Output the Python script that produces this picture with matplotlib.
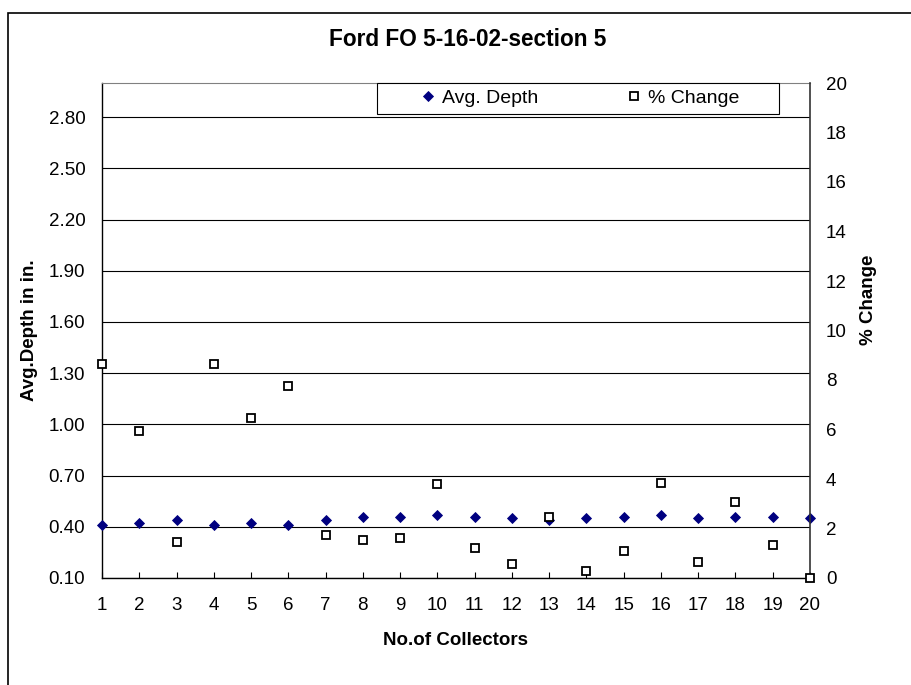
import matplotlib
matplotlib.use("Agg")
import matplotlib.pyplot as plt
from matplotlib.patches import Rectangle

plt.rcParams['font.family'] = ['Liberation Sans', 'DejaVu Sans']

# data
collectors = list(range(1, 21))
avg_depth = [0.41, 0.42, 0.44, 0.41, 0.42, 0.41, 0.44, 0.46, 0.46, 0.47,
             0.46, 0.45, 0.44, 0.45, 0.46, 0.47, 0.45, 0.46, 0.46, 0.45]
pct_change = [8.63, 5.93, 1.47, 8.63, 6.45, 7.77, 1.72, 1.54, 1.60, 3.78,
              1.23, 0.55, 2.46, 0.30, 1.09, 3.84, 0.63, 3.06, 1.35, 0.0]
left_ticks = [0.10, 0.40, 0.70, 1.00, 1.30, 1.60, 1.90, 2.20, 2.50, 2.80]
right_ticks = [0, 2, 4, 6, 8, 10, 12, 14, 16, 18, 20]

W, H = 912, 685
fig = plt.figure(figsize=(W / 100, H / 100), dpi=100)

# plot area in pixels: left 102, right 810, top 83, bottom 578
ax = fig.add_axes([102 / W, (H - 578) / H, 708 / W, 495 / H])
ax.set_xlim(1, 20)
ax.set_ylim(0.1, 3.0)
ax.set_yticks(left_ticks)
ax.set_yticklabels([f"{v:.2f}" for v in left_ticks])
ax.set_xticks(collectors)
ax.yaxis.grid(True, color='black', linewidth=0.8)
ax.set_axisbelow(True)
ax.tick_params(axis='x', direction='in', length=4.5, width=0.8,
               pad=14, labelsize=13.5)
ax.tick_params(axis='y', length=0, pad=12, labelsize=13.5)
ax.spines['top'].set_color('#808080')
ax.spines['right'].set_visible(False)
for s in ['left', 'bottom']:
    ax.spines[s].set_linewidth(1.0)

h1, = ax.plot(collectors, avg_depth, linestyle='none', marker='D',
              markersize=5.5, color='#000080', markeredgewidth=0.6,
              clip_on=False, zorder=3, label='Avg. Depth')

ax2 = ax.twinx()
ax2.set_ylim(0, 20)
ax2.set_yticks(right_ticks)
ax2.tick_params(axis='y', length=0, pad=11.5, labelsize=13.5)
for s in ['left', 'bottom', 'top']:
    ax2.spines[s].set_visible(False)
ax2.spines['right'].set_color('#333333')
ax2.spines['right'].set_linewidth(1.2)

h2, = ax2.plot(collectors, pct_change, linestyle='none', marker='s',
               markersize=5.3, markerfacecolor='white',
               markeredgecolor='black', markeredgewidth=1.3,
               clip_on=False, zorder=3, label='% Change')

ax.set_xlabel('No.of Collectors', fontsize=13.5, fontweight='bold')
ax.xaxis.set_label_coords(0.5, -0.109)
ax.xaxis.label.set_va('top')

fig.text(30 / W, 1 - 330 / H, 'Avg.Depth in in.', rotation=90,
         ha='center', va='center', fontsize=13.5, fontweight='bold')
fig.text(869 / W, 1 - 300 / H, '% Change', rotation=90,
         ha='center', va='center', fontsize=13.5, fontweight='bold')
fig.text(468 / W, 1 - 40 / H, 'Ford FO 5-16-02-section 5',
         ha='center', va='center', fontsize=16.3, fontweight='bold')

# legend box
fig.add_artist(Rectangle((377 / W, 1 - 114 / H), 402 / W, 31 / H,
                         transform=fig.transFigure, facecolor='white',
                         edgecolor='black', linewidth=0.8, zorder=4))
fig.legend(handles=[h1, h2], loc='center left',
           bbox_to_anchor=(418 / W, 1 - 98.5 / H), bbox_transform=fig.transFigure,
           ncol=2, frameon=False, handlelength=1, handletextpad=0.25,
           columnspacing=4.4, borderpad=0, borderaxespad=0, fontsize=14)

# outer chart border
fig.add_artist(Rectangle((8 / W, -0.05), 1.2, (H - 13) / H + 0.05,
                         transform=fig.transFigure, fill=False,
                         edgecolor='black', linewidth=1.2))

fig.savefig('out.png', dpi=100)
